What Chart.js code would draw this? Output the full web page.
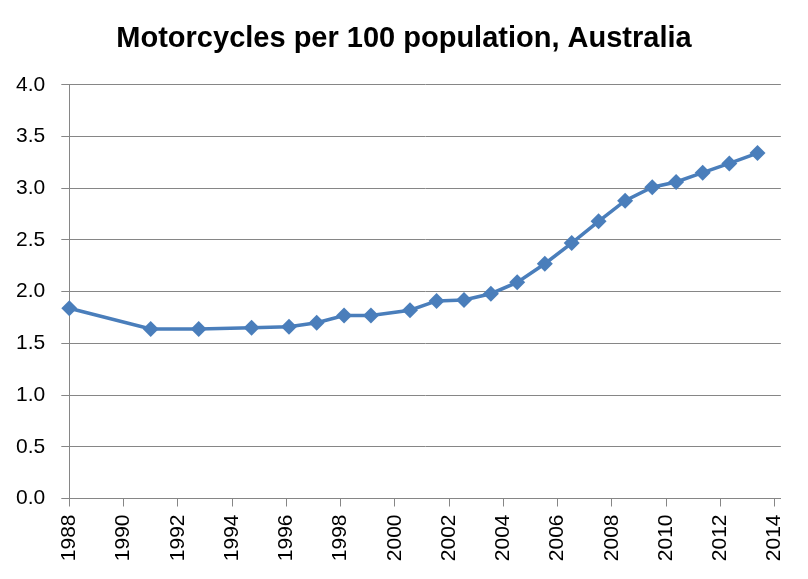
<!DOCTYPE html>
<html>
<head>
<meta charset="utf-8">
<script src="https://cdn.jsdelivr.net/npm/chart.js@4.4.1/dist/chart.umd.min.js"></script>
<style>
html,body{margin:0;padding:0;background:#fff;}
#wrap{width:808px;height:579px;position:relative;}
</style>
</head>
<body>
<div id="wrap"><canvas id="c" width="808" height="579"></canvas></div>
<script>
const years = [1988.0, 1991.0, 1992.77, 1994.72, 1996.1, 1997.12, 1998.13, 1999.12, 2000.56, 2001.54, 2002.55, 2003.54, 2004.51, 2005.53, 2006.52, 2007.51, 2008.49, 2009.49, 2010.37, 2011.35, 2012.33, 2013.37];
const values = [1.84, 1.64, 1.64, 1.65, 1.66, 1.70, 1.77, 1.77, 1.82, 1.91, 1.92, 1.98, 2.09, 2.27, 2.47, 2.68, 2.88, 3.01, 3.06, 3.15, 3.24, 3.34];
const xTicks = [1988, 1990, 1992, 1994, 1996, 1998, 2000, 2002, 2004, 2006, 2008, 2010, 2012, 2014];
const yTicks = [0, 0.5, 1.0, 1.5, 2.0, 2.5, 3.0, 3.5, 4.0];
const titleText = 'Motorcycles per 100 population, Australia';

const points = years.map((x, i) => ({x: x, y: values[i]}));
const blue = '#4A7EBB';
const grey = '#868686';

new Chart(document.getElementById('c'), {
  type: 'line',
  data: {
    datasets: [{
      data: points,
      borderColor: blue,
      backgroundColor: blue,
      borderWidth: 3.5,
      pointStyle: 'rectRot',
      pointRadius: 8,
      pointHoverRadius: 8,
      pointBorderWidth: 0,
      tension: 0,
      clip: false
    }]
  },
  options: {
    responsive: false,
    animation: false,
    devicePixelRatio: 1,
    layout: {padding: {left: 0, right: 0, top: 0, bottom: 0}},
    plugins: {
      legend: {display: false},
      tooltip: {enabled: false},
      title: {
        display: true,
        text: titleText,
        color: '#000',
        font: {family: 'Liberation Sans', size: 29, weight: 'bold'},
        padding: {top: 22, bottom: 28}
      }
    },
    scales: {
      x: {
        type: 'linear',
        min: 1988,
        max: 2014.23,
        afterBuildTicks: s => { s.ticks = xTicks.map(v => ({value: v})); },
        afterFit: s => { s.height = 80.5; },
        ticks: {
          minRotation: 90, maxRotation: 90,
          autoSkip: false,
          padding: 8,
          color: '#000',
          font: {family: 'Liberation Sans', size: 21},
          callback: v => String(v)
        },
        grid: {drawOnChartArea: false, drawTicks: true, tickLength: 8, color: grey, lineWidth: 1},
        border: {color: grey, width: 1}
      },
      y: {
        min: 0, max: 4,
        afterBuildTicks: s => { s.ticks = yTicks.map(v => ({value: v})); },
        afterFit: s => { s.width = 69.3; },
        ticks: {
          padding: 16,
          color: '#000',
          font: {family: 'Liberation Sans', size: 21},
          callback: v => Number(v).toFixed(1)
        },
        grid: {color: grey, lineWidth: 1, tickLength: 8},
        border: {color: grey, width: 1}
      },
      yRight: {
        position: 'right',
        min: 0, max: 4,
        afterFit: s => { s.width = 24; },
        ticks: {display: false},
        grid: {display: false, drawTicks: false},
        border: {display: false}
      }
    }
  }
});
</script>
</body>
</html>
